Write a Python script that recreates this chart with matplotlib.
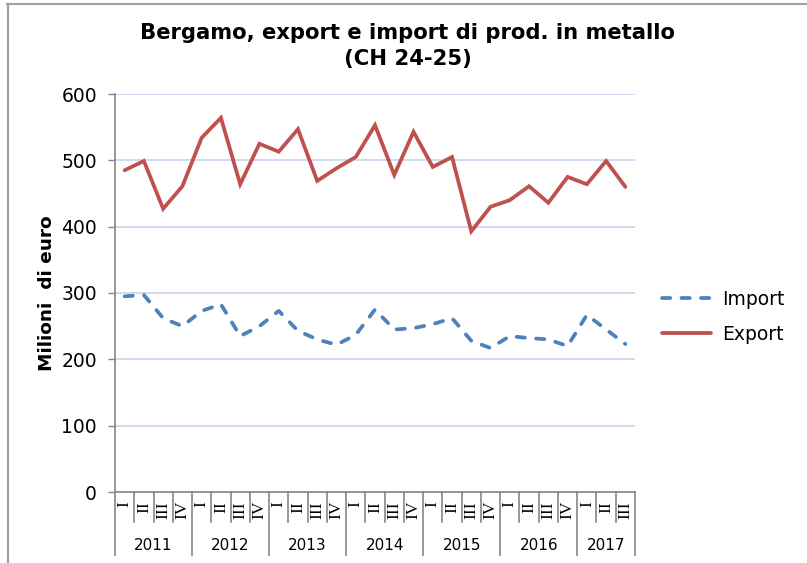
import matplotlib.pyplot as plt
import numpy as np
from matplotlib.lines import Line2D
from matplotlib.transforms import blended_transform_factory

years = ["2011", "2012", "2013", "2014", "2015", "2016", "2017"]
quarters_per_year = [4, 4, 4, 4, 4, 4, 3]
quarter_names = ["I", "II", "III", "IV"]

export_vals = [485, 499, 427, 461, 534, 564, 464, 525, 513, 547, 469, 488, 505, 553,
               478, 543, 490, 505, 393, 430, 440, 461, 436, 475, 464, 499, 460]
import_vals = [295, 297, 262, 250, 273, 283, 235, 250, 273, 243, 230, 222, 237, 275,
               245, 247, 253, 262, 228, 217, 235, 232, 230, 220, 267, 245, 223]

W, H = 807, 563
fig = plt.figure(figsize=(W / 100, H / 100), dpi=100)
ax = fig.add_axes([115 / W, 1 - 492 / H, 520 / W, 398 / H])

x = np.arange(len(export_vals))
ax.plot(x, import_vals, color="#4F81BD", lw=2.7, ls=(0, (2.2, 3.0)),
        dash_capstyle="round", solid_capstyle="round", label="Import")
ax.plot(x, export_vals, color="#C0504D", lw=2.7, solid_capstyle="round",
        solid_joinstyle="miter", label="Export")

ax.set_xlim(-0.5, len(x) - 0.5)
ax.set_ylim(0, 600)
ax.set_yticks(range(0, 601, 100))
ax.yaxis.grid(True, color="#c6d6ec", lw=1.2)
ax.set_axisbelow(True)
ax.tick_params(axis="y", length=5, width=1, color="#868686", labelsize=13.5, pad=8)
ax.set_xticks([])
for s in ["top", "right"]:
    ax.spines[s].set_visible(False)
for s in ["left", "bottom"]:
    ax.spines[s].set_color("#868686")
    ax.spines[s].set_linewidth(1.2)

# two-level category axis: quarters and years
trans = blended_transform_factory(ax.transData, ax.transAxes)
q_low = -30 / 398
y_low = -63 / 398
pos = 0
for yr, n in zip(years, quarters_per_year):
    ax.add_line(Line2D([pos - 0.5, pos - 0.5], [0, y_low], transform=trans,
                       color="#868686", lw=1.2, clip_on=False))
    for q in range(n):
        if q > 0:
            ax.add_line(Line2D([pos + q - 0.5] * 2, [0, q_low], transform=trans,
                               color="#868686", lw=1.2, clip_on=False))
        ax.text(pos + q, -9 / 398, quarter_names[q], transform=trans, rotation=90,
                ha="center", va="top", fontsize=12.5, family="Liberation Serif")
    ax.text(pos + (n - 1) / 2, -53 / 398, yr, transform=trans, ha="center",
            va="center", fontsize=11)
    pos += n
ax.add_line(Line2D([pos - 0.5, pos - 0.5], [0, y_low], transform=trans,
                   color="#868686", lw=1.2, clip_on=False))

ax.set_ylabel("Milioni  di euro", fontsize=13.3, fontweight="bold", labelpad=4)
fig.text(408 / W, 1 - 46 / H, "Bergamo, export e import di prod. in metallo\n(CH 24-25)",
         ha="center", va="center", fontsize=15.2, fontweight="bold", linespacing=1.4)

ax.legend(loc="center left", bbox_to_anchor=(1.02, 0.44), frameon=False,
          fontsize=13.5, handlelength=2.6, labelspacing=0.85, handletextpad=0.6)

# chart frame
fig.add_artist(Line2D([7 / W, 1], [1 - 4 / H] * 2, color="#a0a0a0", lw=1.5))
fig.add_artist(Line2D([8 / W] * 2, [0, 1 - 4 / H], color="#a0a0a0", lw=1.5))

fig.savefig("out.png", dpi=100)
